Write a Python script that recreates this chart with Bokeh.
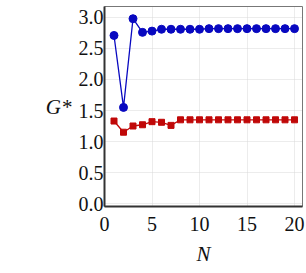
from bokeh.plotting import figure
from bokeh.models import Range1d, FixedTicker, NumeralTickFormatter
from bokeh.embed import file_html
from bokeh.resources import INLINE

N = list(range(1, 21))
g_blue = [2.71, 1.55, 2.98, 2.76, 2.78, 2.81, 2.81, 2.81, 2.81, 2.81,
          2.82, 2.82, 2.82, 2.82, 2.82, 2.82, 2.82, 2.82, 2.82, 2.82]
g_red = [1.33, 1.15, 1.25, 1.27, 1.32, 1.31, 1.26, 1.35, 1.35, 1.35,
         1.35, 1.35, 1.35, 1.35, 1.35, 1.35, 1.35, 1.35, 1.35, 1.35]
x_ticks = [0, 5, 10, 15, 20]
y_ticks = [0.0, 0.5, 1.0, 1.5, 2.0, 2.5, 3.0]
x_label = "N"
y_label = "G*"

TICK_FONT = "Liberation Serif"
LABEL_FONT = "Liberation Serif"
BLUE = "#0808c0"
RED = "#c00808"

p = figure(width=306, height=273, output_backend="svg", toolbar_location=None,
           x_range=Range1d(0, 20.84), y_range=Range1d(-0.048, 3.177),
           min_border_left=104, min_border_right=4, min_border_top=6,
           min_border_bottom=67, background_fill_color="white",
           border_fill_color="white")

p.outline_line_color = "#777777"
p.outline_line_width = 1

p.line(N, g_blue, line_color=BLUE, line_width=1.3)
p.scatter(N, g_blue, marker="circle", size=8, fill_color=BLUE, line_color=BLUE)
p.line(N, g_red, line_color=RED, line_width=1.3)
p.scatter(N, g_red, marker="square", size=6, fill_color=RED, line_color=RED)

for ax in (p.xaxis[0], p.yaxis[0]):
    ax.axis_line_color = "#333333"
    ax.axis_line_width = 2
    ax.major_tick_in = 0
    ax.major_tick_out = 0
    ax.minor_tick_in = 0
    ax.minor_tick_out = 0
    ax.major_label_text_font = TICK_FONT
    ax.major_label_text_font_size = "20px"
    ax.major_label_text_color = "#111111"
    ax.axis_label_text_font = LABEL_FONT
    ax.axis_label_text_font_size = "21px"
    ax.axis_label_text_font_style = "italic"
    ax.axis_label_text_color = "#111111"

p.xaxis.ticker = FixedTicker(ticks=x_ticks)
p.yaxis.ticker = FixedTicker(ticks=y_ticks)
p.yaxis.formatter = NumeralTickFormatter(format="0.0")
p.xaxis.major_label_standoff = 10
p.yaxis.major_label_standoff = 1
p.xaxis.axis_label = x_label
p.yaxis.axis_label = y_label
p.yaxis.axis_label_orientation = "horizontal"
p.xaxis.axis_label_standoff = 8
p.yaxis.axis_label_standoff = 4

p.xgrid.grid_line_color = "#d8d8d8"
p.ygrid.grid_line_color = "#d8d8d8"
p.xgrid.grid_line_dash = "1 1"
p.ygrid.grid_line_dash = "1 1"
p.xgrid.grid_line_width = 1
p.ygrid.grid_line_width = 1

open("out.html", "w").write(file_html(p, INLINE))
